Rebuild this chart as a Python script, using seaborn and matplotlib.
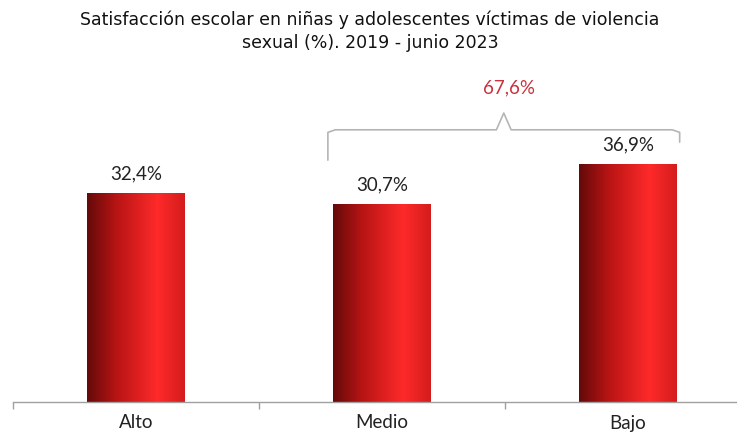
import numpy as np
import pandas as pd
import matplotlib
matplotlib.use("Agg")
import matplotlib.pyplot as plt
from matplotlib.colors import LinearSegmentedColormap
import seaborn as sns

categories = ["Alto", "Medio", "Bajo"]
values = [32.4, 30.7, 36.9]
labels = ["32,4%", "30,7%", "36,9%"]
brace_label = "67,6%"
title = "Satisfacción escolar en niñas y adolescentes víctimas de violencia\nsexual (%). 2019 - junio 2023"

sns.set_theme(style="white")
plt.rcParams["font.family"] = ["Lato", "DejaVu Sans"]

df = pd.DataFrame({"cat": categories, "val": values})

fig = plt.figure(figsize=(7.37, 4.37), dpi=100)
ax = fig.add_axes([13 / 737, 35 / 437, 738 / 737, 322.5 / 437])

sns.barplot(data=df, x="cat", y="val", ax=ax, width=0.395, color="#e02020",
            edgecolor="none", saturation=1)
ax.set_ylim(0, 50)
ax.set_xlim(-0.5, 2.5)

# gradient fill on bars
cmap = LinearSegmentedColormap.from_list(
    "redgrad", [(0.0, "#640a0a"), (0.3, "#b81414"), (0.72, "#ff2a2a"), (1.0, "#d41c1c")])
grad = np.linspace(0, 1, 256).reshape(1, -1)
for p in ax.patches:
    x0, y0 = p.get_x(), p.get_y()
    w, h = p.get_width(), p.get_height()
    im = ax.imshow(grad, cmap=cmap, extent=[x0, x0 + w, y0, y0 + h],
                   aspect="auto", zorder=p.get_zorder() + 0.1)
    im.set_clip_path(p)
ax.set_xlim(-0.5, 2.5)
ax.set_ylim(0, 50)

# value labels
for i, (v, lab) in enumerate(zip(values, labels)):
    ax.text(i, v + 1.6, lab, ha="center", va="bottom", fontsize=13.5, color="#222222")

# brace over Medio and Bajo
xl, xr = 1 - 0.22, 2 + 0.21
xm = (xl + xr) / 2
yh = 42.2
path_x = [xl, xl, xl + 0.03, xm - 0.03, xm, xm + 0.03, xr - 0.03, xr, xr]
path_y = [values[1] + 6.8, yh - 0.4, yh, yh, yh + 2.6, yh, yh, yh - 0.4, values[2] + 3.4]
ax.plot(path_x, path_y, color="#b5b5b5", lw=1.2, solid_joinstyle="round", clip_on=False)
ax.text(xm + 0.02, 48.7, brace_label, ha="center", va="center", fontsize=13.5,
        color="#c9313c", clip_on=False)

# axes styling
for s in ["top", "right", "left"]:
    ax.spines[s].set_visible(False)
ax.spines["bottom"].set_color("#a0a0a0")
ax.spines["bottom"].set_linewidth(1.0)
ax.set_yticks([])
ax.set_xlabel("")
ax.set_ylabel("")
ax.set_xticks([-0.5, 0.5, 1.5, 2.5], minor=True)
ax.tick_params(axis="x", which="minor", length=5, color="#a0a0a0", width=1, bottom=True)
ax.tick_params(axis="x", which="major", length=0, labelsize=13.5, labelcolor="#222222", pad=9)

fig.suptitle(title, x=370 / 737, y=0.975, fontsize=12.5, color="#111111", va="top",
             linespacing=1.3, family=["DejaVu Sans"])

fig.savefig("out.png", dpi=100)
